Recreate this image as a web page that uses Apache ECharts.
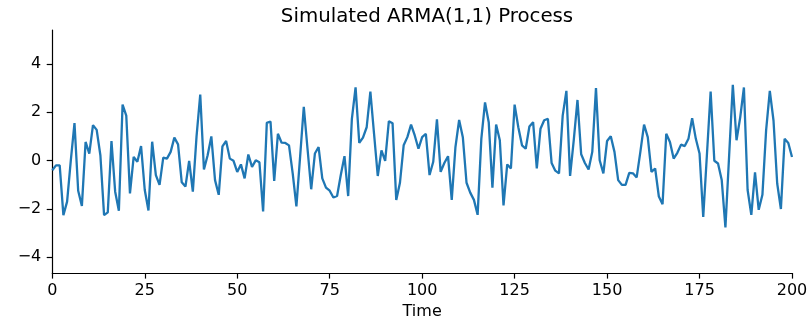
<!DOCTYPE html>
<html>
<head>
<meta charset="utf-8">
<script src="https://cdn.jsdelivr.net/npm/echarts@6/dist/echarts.min.js"></script>
<style>html,body{margin:0;padding:0;background:#fff;}#c{width:811px;height:325px;}</style>
</head>
<body>
<div id="c"></div>
<script>
const titleText = "Simulated ARMA(1,1) Process";
const xName = "Time";
const xTicks = [0, 25, 50, 75, 100, 125, 150, 175, 200];
const yTicks = [-4, -2, 0, 2, 4];
const values = [
-0.4,-0.2,-0.2,-2.26,-1.7,0.0,1.55,-1.25,-1.88,0.77,
0.29,1.47,1.27,0.22,-2.26,-2.15,0.81,-1.29,-2.08,2.32,
1.86,-1.36,0.15,-0.05,0.6,-1.22,-2.07,0.78,-0.6,-1.01,
0.12,0.08,0.36,0.95,0.67,-0.9,-1.08,-0.01,-1.29,1.0,
2.73,-0.37,0.22,1.0,-0.81,-1.42,0.59,0.81,0.08,-0.01,
-0.47,-0.16,-0.74,0.25,-0.26,0.01,-0.07,-2.11,1.56,1.62,
-0.84,1.11,0.74,0.73,0.63,-0.53,-1.9,0.15,2.23,0.5,
-1.19,0.29,0.56,-0.74,-1.12,-1.25,-1.53,-1.47,-0.6,0.18,
-1.47,1.73,3.03,0.73,0.95,1.38,2.86,1.1,-0.64,0.42,
-0.01,1.63,1.55,-1.63,-0.92,0.63,0.97,1.49,1.04,0.49,
0.97,1.11,-0.6,-0.05,1.71,-0.47,-0.1,0.18,-1.63,0.56,
1.68,0.97,-0.92,-1.33,-1.63,-2.25,0.9,2.41,1.59,-1.12,
1.49,0.84,-1.86,-0.16,-0.33,2.32,1.38,0.63,0.49,1.41,
1.59,-0.33,1.32,1.67,1.73,-0.1,-0.42,-0.53,1.86,2.89,
-0.64,0.86,2.51,0.26,-0.1,-0.37,0.36,3.0,0.01,-0.53,
0.81,1.01,0.36,-0.81,-1.01,-1.01,-0.51,-0.53,-0.7,0.36,
1.49,0.97,-0.47,-0.33,-1.49,-1.81,1.11,0.77,0.08,0.32,
0.66,0.6,0.9,1.75,0.9,0.29,-2.34,0.25,2.86,-0.01,
-0.12,-0.81,-2.77,0.2,3.14,0.84,1.79,3.03,-1.22,-2.25,
-0.49,-2.04,-1.42,1.25,2.89,1.66,-0.95,-2.01,0.9,0.73,
0.15
];
const seriesData = values.map((v, i) => [i, v]);
const font = "DejaVu Sans";
const fmt = v => String(v).replace('-', '\u2212');
const chart = echarts.init(document.getElementById('c'), null, {renderer: 'canvas'});
chart.setOption({
  animation: false,
  backgroundColor: '#ffffff',
  title: {
    text: titleText, left: 422, top: 2, textAlign: 'center',
    textStyle: {fontFamily: font, fontSize: 19.8, fontWeight: 'normal', color: '#000'}
  },
  grid: {left: 52.3, right: 19, top: 30, bottom: 50, containLabel: false},
  xAxis: {
    type: 'value', min: 0, max: 200, interval: 25,
    name: xName, nameLocation: 'middle', nameGap: 31,
    nameTextStyle: {fontFamily: font, fontSize: 16, color: '#000'},
    axisLine: {show: true, onZero: false, lineStyle: {color: '#000', width: 1.2}},
    axisTick: {show: true, inside: false, length: 5.6, lineStyle: {color: '#000', width: 1.2}, customValues: xTicks},
    axisLabel: {fontFamily: font, fontSize: 16, color: '#000', margin: 10, customValues: xTicks, formatter: fmt},
    splitLine: {show: false}
  },
  yAxis: {
    type: 'value', min: -4.66, max: 5.41,
    axisLine: {show: true, onZero: false, lineStyle: {color: '#000', width: 1.2}},
    axisTick: {show: true, inside: false, length: 5.6, lineStyle: {color: '#000', width: 1.2}, customValues: yTicks},
    axisLabel: {fontFamily: font, fontSize: 16, color: '#000', margin: 11, customValues: yTicks, formatter: fmt},
    splitLine: {show: false}
  },
  series: [{
    type: 'line', data: seriesData, showSymbol: false, smooth: false,
    lineStyle: {color: '#1f77b4', width: 2.3}, itemStyle: {color: '#1f77b4'}
  }]
});
</script>
</body>
</html>
